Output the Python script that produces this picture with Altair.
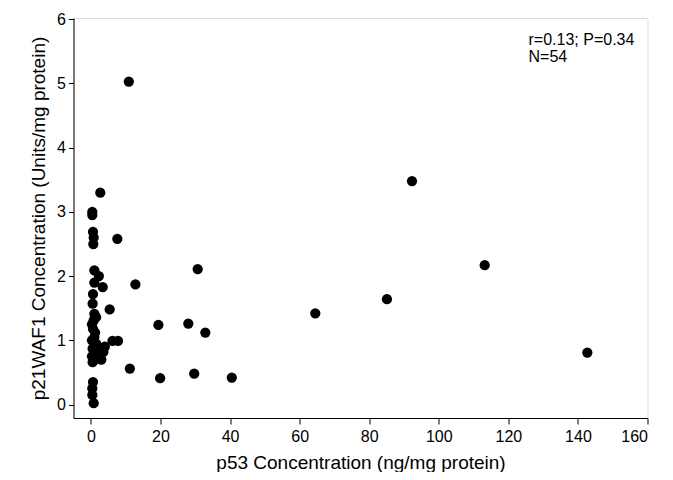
import altair as alt
import pandas as pd

# p53 concentration (ng/mg protein)
p53 = [
    10.9, 7.6, 30.7, 12.8, 5.4, 64.5, 19.4, 28.0, 32.9, 6.2,
    7.8, 11.2, 19.9, 29.7, 40.5, 92.3, 113.2, 85.1, 142.7,
    2.7, 0.4, 0.4, 0.6, 0.8, 0.7, 1.0, 2.3, 1.0, 3.4,
    0.6, 0.5, 1.0, 0.8, 0.6, 1.0, 0.5, 4.0, 2.2, 0.5,
    0.6, 0.4, 0.4, 0.8, 1.5, 0.3, 1.2, 0.3, 1.5, 2.8,
    1.0, 0.3, 1.8, 3.0, 3.6,
]
# p21WAF1 concentration (Units/mg protein)
p21 = [
    5.03, 2.58, 2.11, 1.87, 1.48, 1.42, 1.24, 1.26, 1.12, 0.99,
    0.99, 0.56, 0.41, 0.48, 0.42, 3.48, 2.17, 1.64, 0.81,
    3.30, 3.00, 2.95, 2.69, 2.60, 2.50, 2.09, 2.00, 1.90, 1.83,
    1.72, 1.57, 1.41, 1.31, 1.18, 1.05, 0.87, 0.90, 0.77, 0.66,
    0.35, 0.25, 0.15, 0.02, 1.36, 1.25, 1.12, 1.00, 0.95, 0.85,
    0.80, 0.75, 0.72, 0.70, 0.82,
]

x_ticks = [0, 20, 40, 60, 80, 100, 120, 140, 160]
y_ticks = [0, 1, 2, 3, 4, 5, 6]

note_lines = ["r=0.13; P=0.34", "N=54"]
note_x = [125.8, 125.8]
note_y = [5.67, 5.42]

df = pd.DataFrame({"p53": p53, "p21": p21})
notes = pd.DataFrame({"t": note_lines, "x": note_x, "y": note_y})

FONT = "Liberation Sans"

xs = alt.Scale(domain=[-5, 160], nice=False, zero=False)
ys = alt.Scale(domain=[-0.21, 6.02], nice=False, zero=False)

pts = alt.Chart(df).mark_circle(size=105, color="black", opacity=1).encode(
    x=alt.X("p53:Q", scale=xs,
            axis=alt.Axis(title="p53 Concentration (ng/mg protein)", values=x_ticks,
                          format="d", grid=False, tickSize=6, labelPadding=4,
                          titlePadding=9, domainColor="black", tickColor="black",
                          labelFontSize=16, titleFontSize=19, labelColor="black",
                          titleColor="black", titleFontWeight="normal",
                          labelFont=FONT, titleFont=FONT)),
    y=alt.Y("p21:Q", scale=ys,
            axis=alt.Axis(title="p21WAF1 Concentration (Units/mg protein)", values=y_ticks,
                          format="d", grid=False, tickSize=5, labelPadding=3,
                          titlePadding=8, domainColor="black", tickColor="black",
                          labelFontSize=16, titleFontSize=19, labelColor="black",
                          titleColor="black", titleFontWeight="normal",
                          labelFont=FONT, titleFont=FONT)),
)

txt = alt.Chart(notes).mark_text(align="left", baseline="middle", fontSize=16,
                                 font=FONT, color="black").encode(
    x=alt.X("x:Q", scale=xs), y=alt.Y("y:Q", scale=ys), text="t:N")

chart = (pts + txt).properties(
    width=574, height=400,
    autosize=alt.AutoSizeParams(type="none"),
    padding={"left": 65.5, "top": 10, "right": 17, "bottom": 54},
).configure_view(stroke="black", strokeWidth=1.2).configure(background="white")

chart.save("out.html", embed_options={"renderer": "svg", "actions": False})
